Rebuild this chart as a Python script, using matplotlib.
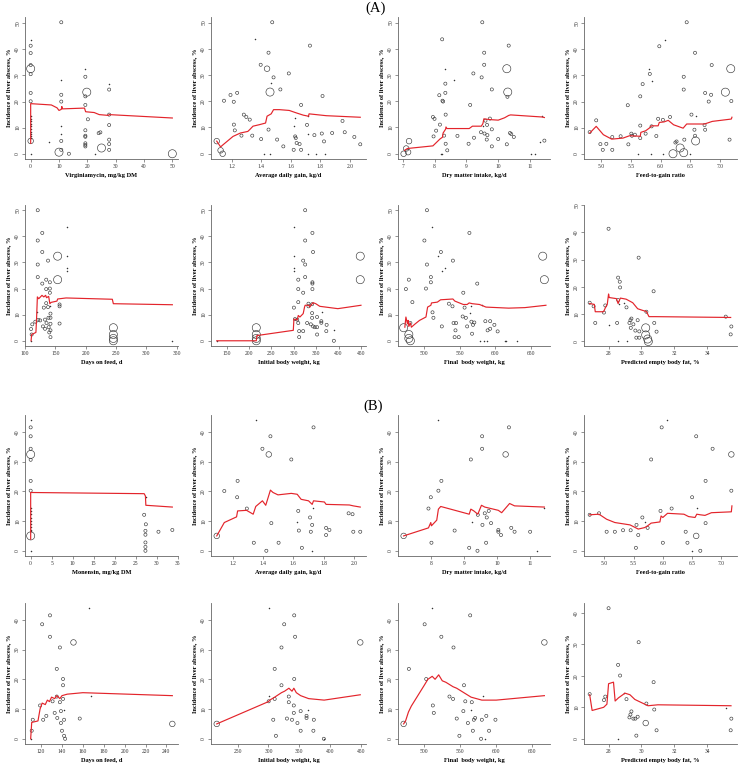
import numpy as np
import matplotlib
matplotlib.use("Agg")
import matplotlib.pyplot as plt

plt.rcParams['font.family'] = ['Liberation Serif', 'DejaVu Serif']

# ---------------- data: (x, incidence %, study weight class) ----------------
# weight class: 0 = tiny study, 1 = small, 2 = medium, 3 = large
va_pts = [(0, 43.6, 0), (0, 41.4, 1), (0, 38.6, 1), (0, 34, 1), (0, 32.6, 3), (0, 30.5, 1), (0, 23.3, 1),
          (0, 20.1, 1), (0, 14.4, 0), (0, 13.5, 0), (0, 12.5, 0), (0, 11.5, 0), (0, 10.5, 0), (0, 9.5, 0),
          (0, 8.5, 0), (0, 7.5, 0), (0, 6.8, 0), (0, 6.2, 0), (0, 4.9, 2), (0, 0, 0), (6.5, 4.4, 0),
          (10.8, 50.4, 1), (10.8, 28.2, 0), (10.8, 22.6, 1), (10.8, 20, 1), (10.8, 10.6, 0), (10.8, 7.4, 0),
          (10.8, 4.9, 1), (10.8, 1.5, 1), (10, 0.6, 3), (13.5, 0, 1), (19.3, 29.5, 1), (19.3, 32.4, 0),
          (19.8, 23.6, 3), (19.3, 22, 1), (19.3, 18.7, 1), (20.2, 13.2, 1), (19.3, 9, 1), (19.3, 6.9, 1),
          (19.3, 6.5, 1), (19.3, 4, 1), (19.3, 3.4, 1), (19.3, 2.8, 1), (22.8, 0, 0), (24, 7.9, 1),
          (24.6, 8.2, 1), (25, 2.2, 3), (27.7, 26.8, 0), (27.7, 24.6, 1), (27.7, 15, 1), (27.7, 11, 1),
          (27.7, 5.4, 1), (27.7, 3.7, 1), (27.7, 1.5, 1), (50, 0, 3)]
va_line_x = [0, 0, 7.3, 9.3, 10, 10.8, 11, 11.2, 19, 19.4, 22.4, 24.2, 27.4, 27.7, 50]
va_line_y = [4, 19.2, 18.7, 17.6, 16.6, 17, 18.1, 17.2, 17.5, 16.1, 15.8, 15, 14.7, 15, 13.7]

adg_a_pts = [(1.356, 43.6, 0), (1.475, 50.1, 1), (1.45, 38.5, 1), (1.397, 33.9, 1), (1.44, 32.4, 2),
             (1.484, 29.1, 1), (1.468, 26.8, 0), (1.587, 30.6, 1), (1.73, 41.2, 1), (1.149, 20.2, 1),
             (1.193, 22.4, 1), (1.238, 23.2, 1), (1.215, 19.8, 1), (1.46, 23.5, 3), (1.53, 24.5, 1),
             (1.815, 22, 1), (1.67, 18.6, 1), (1.283, 14.9, 1), (1.3, 14, 1), (1.323, 13, 1), (1.216, 11.1, 1),
             (1.222, 8.9, 1), (1.267, 6.9, 1), (1.34, 6.9, 1), (1.4, 5.6, 1), (1.45, 9.2, 1), (1.508, 5.4, 1),
             (1.55, 2.8, 1), (1.627, 13.5, 0), (1.625, 10.5, 0), (1.63, 6.6, 1), (1.634, 6, 1), (1.64, 4.1, 1),
             (1.66, 3.7, 1), (1.62, 1.5, 1), (1.67, 1.5, 1), (1.71, 11, 1), (1.72, 7.4, 0), (1.76, 7.1, 1),
             (1.81, 7.7, 1), (1.825, 4.7, 1), (1.88, 7.9, 1), (1.95, 12.5, 1), (1.965, 8.2, 1), (2.03, 6.4, 1),
             (2.07, 3.6, 1), (1.1, 4.8, 2), (1.126, 1.3, 2), (1.14, 0, 2), (1.417, 0, 0), (1.457, 0, 0),
             (1.72, 0, 0), (1.774, 0, 0), (1.832, 0, 0), (1.72, 14.3, 0)]
adg_a_line_x = [1.1, 1.126, 1.14, 1.21, 1.26, 1.31, 1.323, 1.345, 1.39, 1.43, 1.44, 1.468, 1.484, 1.524,
                1.59, 1.636, 1.685, 1.72, 1.724, 1.84, 2.07]
adg_a_line_y = [4.8, 2.6, 3.3, 6.6, 7.9, 8.5, 9.2, 10.5, 11.1, 11.7, 14.3, 15.2, 16.8, 16.8, 16.5, 15.6,
                14.7, 14.3, 15.2, 14.5, 13.9]

dmi_a_pts = [(8.24, 43.6, 1), (8.32, 32.3, 0), (8.34, 26.7, 1), (8.34, 23.2, 1), (8.15, 22.3, 1),
             (8.25, 20.2, 1), (8.27, 19.9, 1), (8.35, 14.9, 1), (7.95, 14, 1), (8.0, 13.3, 1), (8.17, 11.1, 1),
             (8.05, 8.8, 1), (7.97, 6.6, 1), (8.3, 6.9, 1), (8.35, 3.8, 1), (8.2, 0, 0), (8.25, 0, 0),
             (8.4, 1.3, 1), (8.61, 28.2, 0), (8.72, 6.8, 1), (9.22, 30.6, 1), (9.12, 18.6, 1), (9.07, 3.8, 1),
             (9.24, 6.1, 1), (9.5, 50.1, 1), (9.56, 38.5, 1), (9.56, 33.9, 1), (9.48, 29.1, 1), (9.8, 24.5, 1),
             (9.46, 8.2, 1), (9.57, 7.7, 1), (9.52, 10.5, 0), (9.6, 12.6, 1), (9.65, 11, 1), (9.74, 13.4, 1),
             (9.66, 7.1, 1), (9.64, 5.4, 1), (9.8, 9.3, 1), (9.8, 2.8, 1), (10.0, 5.6, 1), (10.27, 32.4, 3),
             (10.3, 23.5, 3), (10.29, 21.7, 1), (10.33, 41.2, 1), (10.37, 7.9, 1), (10.41, 7.5, 1),
             (10.27, 3.6, 1), (10.49, 6.4, 1), (11.02, 0, 0), (11.17, 0, 0), (11.3, 4.3, 0), (11.45, 5, 1),
             (11.38, 14.3, 0), (7.03, 0, 2), (7.11, 2, 2), (7.2, 4.8, 2), (7.17, 0.6, 2)]
dmi_a_line_x = [7.06, 7.15, 7.95, 8.17, 8.25, 8.27, 8.35, 8.36, 8.39, 9.09, 9.19, 9.47, 9.52, 9.55, 9.75,
                10.0, 10.2, 10.33, 10.39, 11.38, 11.45]
dmi_a_line_y = [1.3, 2, 3, 5.6, 6.3, 7.9, 9.4, 10.2, 9.6, 9.6, 10.5, 10.5, 11.5, 13.3, 13, 12.8, 13.7,
                14.6, 14.8, 14, 13.8]

fg_a_pts = [(4.81, 8.3, 1), (4.92, 12.8, 1), (4.99, 3.7, 1), (5.03, 1.5, 1), (5.09, 3.8, 1), (5.19, 6.4, 1),
            (5.19, 1.5, 1), (5.33, 6.7, 1), (5.45, 18.6, 1), (5.46, 3.6, 1), (5.51, 7.7, 1), (5.52, 6.9, 1),
            (5.57, 7.3, 1), (5.62, 0, 0), (5.66, 22, 1), (5.66, 10.8, 1), (5.66, 6, 1), (5.7, 26.7, 1),
            (5.75, 7.7, 1), (5.81, 32.3, 0), (5.82, 30.6, 1), (5.86, 28, 0), (5.84, 0, 0), (5.85, 10.5, 1),
            (5.93, 6.8, 1), (5.96, 13.4, 1), (5.98, 41.2, 1), (6.04, 13, 1), (6.05, 0, 0), (6.08, 43.6, 0),
            (6.16, 14.1, 1), (6.21, 0, 3), (6.25, 4.3, 1), (6.27, 4.7, 1), (6.33, 2.2, 3), (6.39, 0.4, 3),
            (6.39, 29.5, 1), (6.39, 24.6, 1), (6.4, 5.4, 1), (6.44, 50.4, 1), (6.5, 0, 0), (6.52, 15, 1),
            (6.57, 9.2, 1), (6.58, 38.7, 1), (6.59, 4.9, 3), (6.6, 14.3, 0), (6.58, 6.9, 1), (6.75, 23.3, 1),
            (6.75, 9.2, 1), (6.74, 11, 1), (6.81, 20, 1), (6.85, 22.6, 1), (6.86, 34, 1), (7.09, 23.6, 3),
            (7.16, 5.4, 1), (7.18, 32.6, 3), (7.19, 20.2, 1)]
fg_a_line_x = [4.81, 4.92, 5.04, 5.18, 5.37, 5.48, 5.66, 5.67, 5.75, 5.81, 5.85, 5.96, 5.98, 6.06, 6.13,
               6.22, 6.38, 6.44, 6.74, 6.87, 7.19, 7.2]
fg_a_line_y = [7.9, 10.5, 7.3, 5.6, 6, 6.9, 6.7, 8.2, 8.8, 9.8, 10.7, 10.7, 12, 12.2, 12.8, 11.1, 9.8,
               11.4, 11.4, 12.4, 13.3, 14]

dof_a_pts = [(110, 0, 0), (111, 2.4, 1), (110, 4.5, 1), (112, 6.3, 1), (117, 7.3, 1), (118, 7.3, 0),
             (119, 10.9, 0), (121, 50, 1), (121, 38.4, 1), (121, 29.2, 1), (121, 24.4, 1), (122, 8, 1),
             (125, 7.8, 1), (128.5, 41.3, 1), (128.5, 34, 1), (128.5, 21.9, 1), (129.6, 5.5, 1), (131, 12.7, 1),
             (133, 8.1, 1), (133, 4.6, 1), (135, 23.4, 1), (135, 19.8, 1), (135, 14.4, 1), (135.5, 6.8, 1),
             (138, 30.7, 1), (138, 12.9, 1), (138.7, 8.8, 1), (139, 5.2, 1), (140, 3.2, 1), (141, 22.4, 1),
             (141, 20, 1), (141, 18.4, 1), (141, 13.5, 0), (142, 10.4, 1), (142, 8.8, 1), (142, 6.5, 1),
             (142, 4, 1), (142, 1.4, 1), (153.8, 32.4, 3), (153.8, 23.4, 3), (157, 13.9, 1), (157, 13.2, 1),
             (157, 6.6, 1), (168.8, 43.6, 0), (168.8, 32.4, 0), (168.8, 28, 0), (168.8, 26.7, 0),
             (245.7, 5, 3), (245.7, 2.4, 3), (245.7, 0.9, 3), (245.7, 0, 3), (343, 0, 0)]
dof_a_line_x = [110, 111, 118, 119, 120.4, 122.6, 128, 131, 134, 135.5, 139, 141, 143, 152.7, 153.8,
                167.7, 244, 245.7, 343]
dof_a_line_y = [0, 2.4, 3.2, 8, 16.8, 16.1, 17.4, 16.8, 17.4, 16.5, 17, 14.2, 14.7, 15.2, 16, 16.4,
                15.9, 14.2, 13.8]

ibw_a_pts = [(128, 0, 0), (216.3, 5, 3), (216.3, 2.4, 3), (216.3, 0.9, 3), (216.3, 0, 3), (300.3, 43.6, 0),
             (300.3, 32.4, 0), (300.3, 28, 0), (300.3, 26.7, 0), (300.3, 12.7, 1), (302.5, 8.3, 1),
             (307.7, 8.1, 1), (310, 23.4, 1), (310, 19.8, 1), (310, 14.8, 1), (310, 6.8, 1), (312, 3.7, 1),
             (312, 1.4, 1), (321, 3.7, 1), (321, 18.4, 1), (321, 30.7, 1), (325.4, 50, 1), (325.4, 38.4, 1),
             (325.4, 29.2, 1), (325.4, 24.4, 1), (329.8, 6.8, 1), (332.8, 14.2, 1), (332.8, 13.2, 1),
             (338, 6.3, 1), (340.9, 10.6, 1), (340.9, 8.8, 1), (341.6, 41.3, 1), (341.6, 22.4, 1),
             (341.6, 21.9, 1), (341.6, 19.8, 1), (343, 34, 1), (340.9, 14, 1), (343, 5.5, 1), (346.8, 5.2, 1),
             (352, 5.2, 1), (352, 2.4, 1), (352, 9.1, 1), (361.5, 7.5, 1), (361.5, 6.9, 1), (363.7, 10.9, 0),
             (373.3, 6.1, 1), (372.6, 3.7, 1), (389.5, 4.3, 0), (389.5, 0, 1), (448.4, 32.4, 3),
             (448.4, 23.4, 3)]
ibw_a_line_x = [128, 216.3, 217.8, 298.9, 300.3, 307.7, 310, 313.6, 321, 324, 325.4, 333.5, 335.7, 340,
                343, 349, 358, 398.3, 450]
ibw_a_line_y = [0, 0, 2, 4, 8.3, 8, 9.7, 9.1, 10.4, 12.9, 13.6, 13.6, 12.9, 14, 14.6, 14.2, 13.2,
                12.3, 13.6]

fbw_a_pts = [(471.3, 5, 3), (478.6, 2.4, 3), (478.6, 0.9, 3), (480.8, 0, 3), (474.5, 19.8, 1),
             (478.6, 23.4, 1), (480.8, 6.8, 1), (483.6, 14.8, 1), (500.5, 38.4, 1), (502.7, 20, 1),
             (504.1, 50, 1), (504.1, 29.2, 1), (509.6, 22.4, 1), (509.6, 24.4, 1), (511.4, 43.6, 0),
             (511.9, 10.9, 1), (513.2, 8.8, 1), (520, 32.4, 0), (523.7, 34, 1), (524.6, 26.7, 0),
             (525, 5.5, 1), (529.2, 28, 0), (535, 14.2, 1), (540, 13.2, 1), (540.6, 30.7, 1), (541.5, 6.8, 1),
             (543, 1.4, 1), (544.2, 4, 1), (545.1, 6.8, 1), (548.8, 1.4, 1), (554.3, 9.3, 1),
             (555.2, 18.4, 1), (557, 12.7, 1), (558.8, 8.8, 1), (560.6, 5.5, 1), (563.8, 41.3, 1),
             (565.2, 10.7, 0), (566.1, 13.5, 0), (566.6, 7.3, 1), (567.5, 2.7, 1), (568.9, 6.1, 1),
             (570.7, 7, 1), (574.8, 21.9, 1), (578.9, 0, 0), (581.6, 13.8, 0), (584.4, 0, 0), (586.2, 7.5, 1),
             (588.9, 0, 0), (589.4, 4, 1), (593, 4.6, 1), (593, 7.5, 1), (598.9, 6.1, 1), (603.5, 3.6, 1),
             (613.5, 0, 0), (615.5, 0, 0), (630.9, 0, 0), (666.9, 32.4, 3), (669.2, 23.4, 3)]
fbw_a_line_x = [473, 474.5, 476.7, 477.7, 478.6, 480.8, 482.2, 486.8, 493.6, 502.7, 505, 509.6, 510.5,
                518.7, 523.3, 540.6, 543.3, 555.2, 560.6, 563.4, 567.9, 578, 587.1, 619, 641.8, 671.4]
fbw_a_line_y = [5.2, 9.1, 6.5, 7.8, 5.5, 6.8, 5.2, 6.3, 7.8, 9.1, 12.9, 13.6, 14.5, 14.8, 15.7, 16,
                15.2, 13.9, 13.9, 14.5, 14.2, 13.9, 12.9, 12.5, 12.7, 13.6]

ebf_a_pts = [(26.85, 14.2, 1), (27.09, 12.9, 1), (27.19, 6.8, 1), (27.72, 10.6, 1), (27.8, 13.2, 1),
             (28, 41.3, 1), (28, 5.9, 0), (28.52, 6.8, 1), (28.58, 23.4, 1), (28.58, 15.2, 1), (28.58, 0, 0),
             (28.64, 13.6, 0), (28.68, 21.9, 1), (28.7, 19.8, 1), (28.91, 14.2, 0), (29.09, 12.5, 1),
             (29.13, 0, 0), (29.27, 6.8, 1), (29.33, 7.8, 1), (29.39, 8.4, 1), (29.35, 5, 1), (29.51, 6.3, 1),
             (29.63, 4, 1), (29.69, 1.4, 1), (29.77, 7.8, 1), (29.83, 30.7, 1), (29.87, 1.4, 1),
             (29.87, 3.7, 1), (30.26, 5, 3), (30.26, 2.4, 3), (30.3, 10.9, 1), (30.38, 0.9, 3), (30.42, 0, 3),
             (30.74, 18.4, 1), (30.78, 6.8, 1), (30.92, 3.6, 1), (35.13, 9.1, 1), (35.47, 5.5, 1),
             (35.43, 2.6, 1)]
ebf_a_line_x = [26.85, 27.13, 27.19, 27.7, 27.8, 27.92, 28, 28.04, 28.48, 28.58, 28.64, 28.72, 29.07,
                29.47, 29.77, 30.07, 30.3, 30.46, 30.86, 35.43]
ebf_a_line_y = [13.9, 13.6, 10.9, 10.9, 12.3, 13.6, 17.4, 16.1, 15.7, 13.9, 14.8, 15.9, 15.5, 14.2, 12,
                11.4, 11, 9.1, 9.1, 8.8]

mon_pts = [(0, 43.9, 0), (0, 41.5, 1), (0, 38.5, 1), (0, 34.3, 1), (0, 32.4, 3), (0, 30.6, 1), (0, 23.5, 1),
           (0, 20.2, 1), (0, 14.5, 0), (0, 13.5, 0), (0, 12.5, 0), (0, 11, 0), (0, 10, 0), (0, 9, 0), (0, 8, 0),
           (0, 7, 0), (0, 6.5, 0), (0, 5, 3), (0, 0, 0), (27, 12.1, 1), (27.4, 8.9, 1), (27.3, 6.7, 1),
           (27.3, 5.4, 1), (27.3, 2.8, 1), (27.3, 1.3, 1), (27.3, 0, 1), (27.4, 18.2, 0), (30.4, 6.4, 1),
           (33.7, 7, 1)]
mon_line_x = [0, 0, 27, 27.3, 27.4, 33.7]
mon_line_y = [3.9, 19.6, 19.2, 18.4, 15.3, 14.7]

adg_b_pts = [(1.093, 5, 2), (1.143, 20.1, 1), (1.231, 23.5, 1), (1.228, 18, 1), (1.292, 14.2, 1),
             (1.351, 43.9, 0), (1.338, 2.7, 1), (1.395, 34.3, 1), (1.421, 0, 1), (1.437, 32.4, 2),
             (1.448, 38.5, 1), (1.454, 9.3, 1), (1.502, 2.7, 1), (1.586, 30.7, 1), (1.625, 9.7, 0),
             (1.632, 13.4, 1), (1.636, 6.8, 1), (1.656, 1, 1), (1.71, 11.2, 1), (1.715, 6.4, 1),
             (1.724, 8.7, 1), (1.728, 14.4, 0), (1.724, 0, 0), (1.733, 41.5, 1), (1.816, 7.7, 1),
             (1.816, 5.3, 1), (1.838, 7, 1), (1.965, 12.6, 1), (1.991, 12.3, 1), (1.996, 6.4, 1),
             (2.042, 6.4, 1)]
adg_b_line_x = [1.093, 1.143, 1.224, 1.231, 1.29, 1.334, 1.351, 1.395, 1.417, 1.448, 1.465, 1.498, 1.586,
                1.625, 1.651, 1.7, 1.724, 1.733, 1.805, 1.816, 1.97, 1.996, 2.042]
adg_b_line_y = [5, 9.5, 11.4, 13.4, 13.6, 12.3, 14.9, 16.8, 15.3, 20.4, 19.6, 18.8, 19.3, 19, 17.3, 16.8,
                15.6, 16.8, 16.4, 15.6, 15.4, 15.1, 14.7]

dmi_b_pts = [(7.18, 5, 2), (7.93, 14.2, 1), (8.0, 18, 1), (8.02, 2.7, 1), (8.23, 43.9, 0), (8.23, 20.2, 1),
             (8.32, 23.5, 1), (8.72, 6.8, 1), (9.16, 1, 1), (9.21, 30.7, 1), (9.25, 9.7, 0), (9.42, 12.1, 1),
             (9.41, 0, 1), (9.55, 38.5, 1), (9.55, 34.3, 1), (9.56, 8.7, 1), (9.63, 12.6, 1), (9.67, 2.7, 1),
             (9.69, 11.2, 1), (9.75, 13.4, 1), (9.82, 9.3, 1), (10.04, 7, 1), (10.04, 6.4, 1),
             (10.12, 5.3, 1), (10.26, 32.4, 2), (10.36, 41.5, 1), (10.43, 7.7, 1), (10.53, 6.4, 1),
             (11.0, 6.4, 1), (11.22, 0, 0), (11.43, 14.4, 0)]
dmi_b_line_x = [7.18, 7.93, 8.0, 8.02, 8.18, 8.23, 8.3, 9.16, 9.21, 9.3, 9.42, 9.53, 9.63, 10.04, 10.14,
                10.38, 10.53, 11.43]
dmi_b_line_y = [5, 7.7, 9.5, 8.4, 10.3, 14, 14.9, 12.3, 14, 13.4, 12.3, 15.3, 14.7, 13.6, 12.8, 15.9,
                15.1, 14.7]

fg_b_pts = [(4.75, 12.1, 1), (4.91, 12.6, 1), (5.04, 6.4, 1), (5.18, 6.4, 1), (5.32, 6.9, 1), (5.45, 6.9, 1),
            (5.54, 1, 1), (5.55, 8.7, 1), (5.58, 5.3, 1), (5.65, 11.2, 1), (5.7, 9.7, 0), (5.74, 7.7, 1),
            (5.8, 30.7, 1), (5.96, 13.4, 1), (5.98, 41.5, 1), (6.0, 2.7, 1), (6.07, 43.9, 0), (6.15, 14.2, 1),
            (6.39, 6.4, 1), (6.42, 2.7, 1), (6.5, 18, 1), (6.49, 0, 0), (6.57, 38.5, 1), (6.57, 5, 2),
            (6.59, 14.4, 0), (6.64, 0, 1), (6.73, 9.3, 1), (6.73, 23.5, 1), (6.85, 34.3, 1), (7.17, 32.4, 2),
            (7.17, 20.2, 1)]
fg_b_line_x = [4.75, 4.91, 5.04, 5.18, 5.44, 5.58, 5.69, 5.74, 5.8, 5.95, 5.97, 6.0, 6.08, 6.36, 6.44,
               6.55, 6.58, 6.64, 6.72, 6.83, 7.17, 7.18]
fg_b_line_y = [12.1, 12.3, 10.6, 9.5, 8.7, 7.3, 7.8, 8.4, 9.3, 9.7, 11.7, 11.2, 12.6, 12.3, 11.5, 11.2,
               12.3, 12.1, 11.9, 12.8, 13.1, 15.1]

dof_b_pts = [(245.7, 5, 2), (141, 20.1, 1), (135, 23.5, 1), (141, 18, 1), (135, 14.2, 1), (166, 43.9, 0),
             (140, 2.7, 1), (128.5, 34.3, 1), (110, 0, 0), (151, 32.4, 2), (121, 38.5, 1), (139, 9.3, 1),
             (111, 2.7, 1), (138, 30.7, 1), (142, 9.7, 0), (141, 13.4, 1), (157, 6.8, 1), (142, 1, 1),
             (119, 11.2, 1), (142, 6.4, 1), (133, 8.7, 1), (168, 14.4, 0), (143, 0, 1), (128.5, 41.5, 1),
             (125, 7.7, 1), (139, 5.3, 1), (135.5, 7, 1), (131, 12.6, 1), (138, 12.3, 1), (112, 6.4, 1),
             (122, 6.4, 1)]
dof_b_line_x = [110, 111, 117, 119, 121, 124, 126, 128, 130, 133, 135, 138, 140, 145, 160, 245.7]
dof_b_line_y = [0, 5.5, 6, 10, 12, 11.5, 13, 12.5, 14, 13.5, 14.5, 13.5, 14.5, 15, 15.5, 14.5]

ibw_b_pts = [(216.3, 5, 2), (341.6, 20.1, 1), (310, 23.5, 1), (321, 18, 1), (332.8, 14.2, 1),
             (300.3, 43.9, 0), (352, 2.7, 1), (343, 34.3, 1), (389.5, 0, 1), (448.4, 32.4, 2),
             (325.4, 38.5, 1), (352, 9.3, 1), (372.6, 2.7, 1), (321, 30.7, 1), (363.7, 9.7, 0),
             (310, 13.4, 1), (329.8, 6.8, 1), (312, 1, 1), (340.9, 11.2, 1), (338, 6.4, 1), (340.9, 8.7, 1),
             (300.3, 14.4, 0), (389.5, 0, 0), (341.6, 41.5, 1), (361.5, 7.7, 1), (346.8, 5.3, 1),
             (361.5, 7, 1), (300.3, 12.6, 1), (332.8, 12.3, 1), (373.3, 6.4, 1), (307.7, 6.4, 1)]
ibw_b_line_x = [216.3, 300, 302, 310, 321, 326, 333, 338, 341, 345, 352, 365, 390, 448.4]
ibw_b_line_y = [5, 12.5, 13, 14, 15.5, 16, 17, 16, 17, 15.5, 14.5, 13.5, 13, 14.8]

fbw_b_pts = [(471.3, 5, 2), (502.7, 20.1, 1), (478.6, 23.5, 1), (555.2, 18, 1), (535, 14.2, 1),
             (511.4, 43.9, 0), (567.5, 2.7, 1), (523.7, 34.3, 1), (578.9, 0, 1), (666.9, 32.4, 2),
             (500.5, 38.5, 1), (554.3, 9.3, 1), (590, 2.7, 1), (540.6, 30.7, 1), (565.2, 9.7, 0),
             (540, 13.4, 1), (545.1, 6.8, 1), (548.8, 1, 1), (511.9, 11.2, 1), (568.9, 6.4, 1),
             (513.2, 8.7, 1), (581.6, 14.4, 0), (584.4, 0, 0), (563.8, 41.5, 1), (586.2, 7.7, 1),
             (560.6, 5.3, 1), (570.7, 7, 1), (557, 12.6, 1), (566, 12.3, 1), (598.9, 6.4, 1), (580, 6.4, 1)]
fbw_b_line_x = [471.3, 474, 478, 482, 500, 505, 511, 515, 520, 525, 530, 540, 545, 555, 565, 580, 600,
                666.9]
fbw_b_line_y = [5, 6, 9, 11, 18, 20, 21, 20, 21.5, 19.5, 19, 17.5, 17, 15.5, 14, 13, 13, 14.5]

ebf_b_pts = [(26.85, 14.2, 1), (28, 41.5, 1), (28.58, 23.5, 1), (28.7, 20.1, 1), (28.91, 14.4, 0),
             (29.09, 12.6, 1), (29.27, 6.8, 1), (29.33, 7.7, 1), (29.39, 8.7, 1), (29.51, 6.4, 1),
             (29.63, 6.4, 1), (29.77, 7, 1), (29.83, 30.7, 1), (30.3, 11.2, 1), (30.26, 5, 2),
             (30.74, 18, 1), (30.78, 9.3, 1), (30.92, 2.7, 1), (35.13, 9.7, 0), (35.47, 6.4, 1),
             (35.43, 2.7, 1), (27.8, 13.4, 1), (27.72, 12.3, 1), (29.69, 1, 1), (28.58, 0, 0)]
ebf_b_line_x = [26.85, 27.0, 27.7, 27.9, 28.0, 28.3, 28.4, 28.6, 29.0, 29.3, 29.6, 30.0, 30.4, 31.0, 35.45]
ebf_b_line_y = [14, 9, 10, 11, 17.5, 18, 12, 13, 14.5, 14, 12.5, 11.5, 10.5, 10.8, 10.5]

ylab = "Incidence of liver abscess, %"

panels = [
    # (points, line x, line y, x label, x ticks, tick format, column, row)
    (va_pts, va_line_x, va_line_y, "Virginiamycin, mg/kg DM", range(0, 51, 10), "%d", 0, 0),
    (adg_a_pts, adg_a_line_x, adg_a_line_y, "Average daily gain, kg/d", np.arange(1.2, 2.01, 0.2), "%.1f", 1, 0),
    (dmi_a_pts, dmi_a_line_x, dmi_a_line_y, "Dry matter intake, kg/d", range(7, 12), "%d", 2, 0),
    (fg_a_pts, fg_a_line_x, fg_a_line_y, "Feed-to-gain ratio", np.arange(5, 7.01, 0.5), "%.1f", 3, 0),
    (dof_a_pts, dof_a_line_x, dof_a_line_y, "Days on feed, d", range(100, 351, 50), "%d", 0, 1),
    (ibw_a_pts, ibw_a_line_x, ibw_a_line_y, "Initial body weight, kg", range(150, 451, 50), "%d", 1, 1),
    (fbw_a_pts, fbw_a_line_x, fbw_a_line_y, "Final  body weight, kg", range(500, 651, 50), "%d", 2, 1),
    (ebf_a_pts, ebf_a_line_x, ebf_a_line_y, "Predicted empty body fat, %", range(28, 35, 2), "%d", 3, 1),
    (mon_pts, mon_line_x, mon_line_y, "Monensin, mg/kg DM", range(0, 36, 5), "%d", 0, 2),
    (adg_b_pts, adg_b_line_x, adg_b_line_y, "Average daily gain, kg/d", np.arange(1.2, 2.01, 0.2), "%.1f", 1, 2),
    (dmi_b_pts, dmi_b_line_x, dmi_b_line_y, "Dry matter intake, kg/d", range(8, 12), "%d", 2, 2),
    (fg_b_pts, fg_b_line_x, fg_b_line_y, "Feed-to-gain ratio", np.arange(5, 7.01, 0.5), "%.1f", 3, 2),
    (dof_b_pts, dof_b_line_x, dof_b_line_y, "Days on feed, d", range(120, 241, 20), "%d", 0, 3),
    (ibw_b_pts, ibw_b_line_x, ibw_b_line_y, "Initial body weight, kg", range(250, 451, 50), "%d", 1, 3),
    (fbw_b_pts, fbw_b_line_x, fbw_b_line_y, "Final  body weight, kg", range(500, 651, 50), "%d", 2, 3),
    (ebf_b_pts, ebf_b_line_x, ebf_b_line_y, "Predicted empty body fat, %", range(28, 35, 2), "%d", 3, 3),
]

W, H = 741, 765
cols = [(25, 178), (211, 366), (398, 550), (584, 737)]
rows = [(17, 159), (205, 346), (415, 556), (603, 744)]
sizes = {0: 1.2, 1: 5, 2: 16, 3: 34}

fig = plt.figure(figsize=(W / 100, H / 100), dpi=100)


def pad(lo, hi):
    r = hi - lo
    return lo - 0.04 * r, hi + 0.04 * r


for pts, lx, ly, xlabel, xticks, fmt, c, r in panels:
    l, rr = cols[c]
    t, b = rows[r]
    ax = fig.add_axes([l / W, 1 - b / H, (rr - l) / W, (b - t) / H])
    x = np.array([p[0] for p in pts])
    y = np.array([p[1] for p in pts])
    w = np.array([p[2] for p in pts])

    dots = w == 0
    ax.scatter(x[dots], y[dots], s=sizes[0], color='#333333', linewidths=0, zorder=2)
    s = np.array([sizes[k] for k in w[~dots]])
    ax.scatter(x[~dots], y[~dots], s=s, facecolors='none', edgecolors='#3a3a3a',
               linewidths=0.45, zorder=2)
    ax.plot(lx, ly, color='#e3242b', lw=0.85, zorder=3)

    ax.set_xlim(*pad(x.min(), x.max()))
    ax.set_ylim(*pad(0, y.max()))
    ax.set_xticks(list(xticks))
    ax.set_xticklabels([fmt % v for v in xticks])
    yt = range(0, 51, 10) if r < 2 else range(0, 41, 10)
    ax.set_yticks(list(yt))
    ax.set_yticklabels([str(v) for v in yt], rotation=90, va='center')

    for side in ('top', 'right'):
        ax.spines[side].set_visible(False)
    for side in ('left', 'bottom'):
        ax.spines[side].set_color('#666666')
        ax.spines[side].set_linewidth(0.6)
    ax.tick_params(length=2, width=0.5, color='#666666', labelsize=4, pad=1.5, labelcolor='#333333')
    ax.set_xlabel(xlabel, fontsize=4.6, fontweight='bold', labelpad=3)
    ax.set_ylabel(ylab, fontsize=4.6, fontweight='bold', labelpad=3)

fig.text(376 / W, 1 - 8 / H, "(A)", ha='center', va='center', fontsize=10.5)
fig.text(373 / W, 1 - 406 / H, "(B)", ha='center', va='center', fontsize=10.5)

fig.savefig("out.png", dpi=100)
